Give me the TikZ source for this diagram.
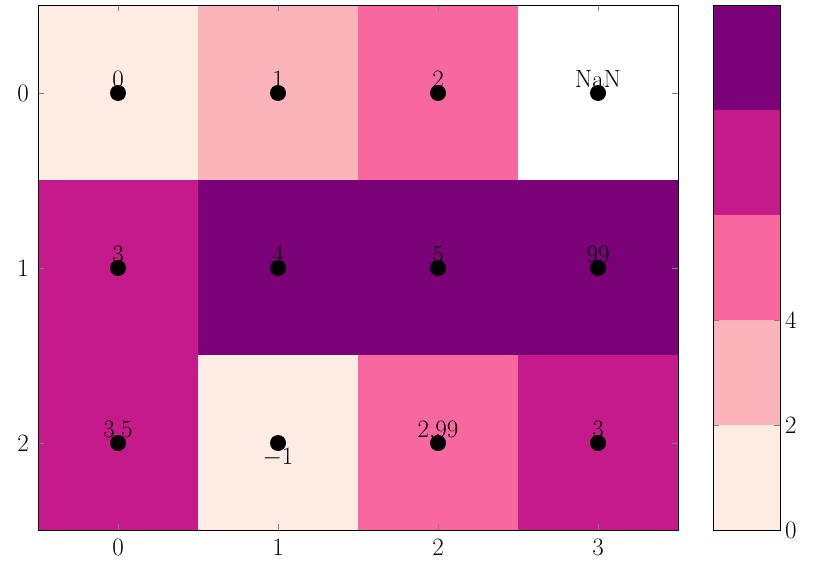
\documentclass[tikz,border=0pt]{standalone}
\usepackage{amsmath, amssymb}
\definecolor{cA}{RGB}{254,235,226}
\definecolor{cB}{RGB}{251,180,185}
\definecolor{cC}{RGB}{247,104,161}
\definecolor{cD}{RGB}{197,27,138}
\definecolor{cE}{RGB}{122,1,119}
\tikzset{
    lbl/.style={font=\fontsize{25}{30}\selectfont, inner sep=1pt},
    dot/.style={circle, fill=black, inner sep=0pt, minimum size=16pt},
    tk/.style={gray, line width=0.6pt}
}
\begin{document}
\begin{tikzpicture}[x=1pt,y=-1pt]
    \useasboundingbox (0,0) rectangle (813,578);
    % cells: column, row, colour, label, label anchor side
    \foreach \c/\r/\col/\t/\a/\p in {0/0/cA/0/north/above,1/0/cB/1/north/above,2/0/cC/2/north/above,3/0/white/NaN/north/above,
        0/1/cD/3/north/above,1/1/cE/4/north/above,2/1/cE/5/north/above,3/1/cE/99/north/above,
        0/2/cD/3.5/north/above,1/2/cA/$-1$/south/below,2/2/cC/2.99/north/above,3/2/cD/3/north/above}{
        \fill[\col] (38+160*\c,5+175*\r) rectangle ++(160,175);
        \node[dot] (d\c\r) at (118+160*\c,93+175*\r) {};
        \node[lbl,\p=-4pt] (t\c\r) at (d\c\r.\a) {\t};
    }
    % ticks
    \foreach \c in {0,...,3}{
        \draw[tk] (118+160*\c,530) -- ++(0,-6) (118+160*\c,5) -- ++(0,6);
        \node[lbl,below] (x\c) at (118+160*\c,538) {\c};
    }
    \foreach \r in {0,...,2}{
        \draw[tk] (38,93+175*\r) -- ++(6,0) (678,93+175*\r) -- ++(-6,0);
        \node[lbl,left] (y\r) at (30,93+175*\r) {\r};
    }
    \draw[line width=0.8pt] (38,5) rectangle (678,530);
    % colour bar
    \foreach \i/\col in {0/cA,1/cB,2/cC,3/cD,4/cE}
        \fill[\col] (713,530-105*\i) rectangle ++(67,-105);
    \foreach \v in {0,2,4}{
        \draw[tk] (780,530-52.5*\v) -- ++(-6,0) (713,530-52.5*\v) -- ++(6,0);
        \node[lbl,right] (c\v) at (784,530-52.5*\v) {\v};
    }
    \draw[line width=0.8pt] (713,5) rectangle (780,530);
\end{tikzpicture}
\end{document}
